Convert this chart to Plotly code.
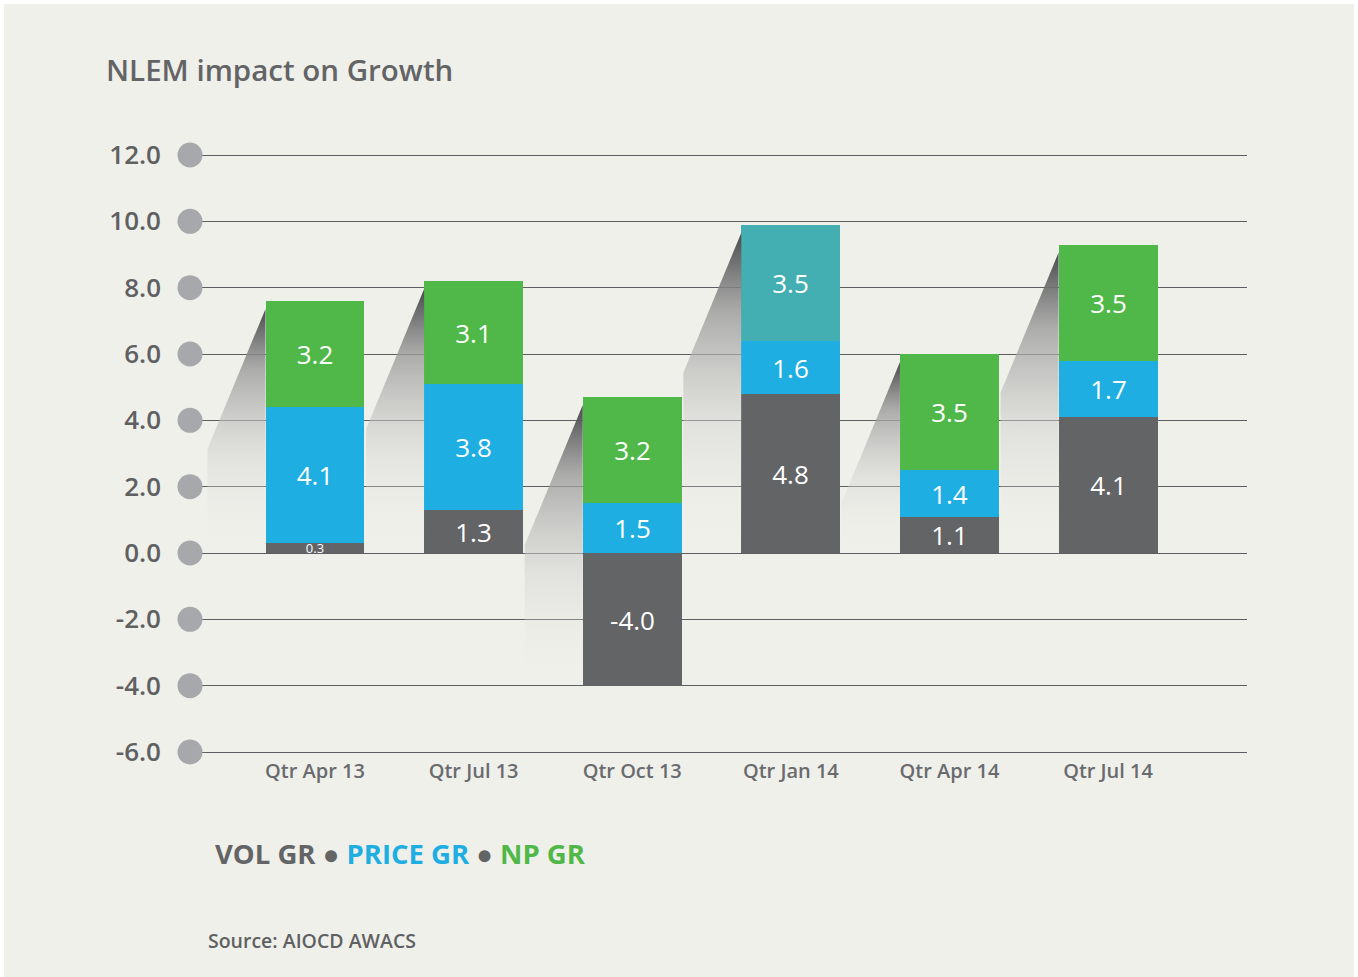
import plotly.graph_objects as go

# ---- data ----
categories = ["Qtr Apr 13", "Qtr Jul 13", "Qtr Oct 13", "Qtr Jan 14", "Qtr Apr 14", "Qtr Jul 14"]
vol_gr = [0.3, 1.3, -4.0, 4.8, 1.1, 4.1]
price_gr = [4.1, 3.8, 1.5, 1.6, 1.4, 1.7]
np_gr = [3.2, 3.1, 3.2, 3.5, 3.5, 3.5]
y_ticks = [-6, -4, -2, 0, 2, 4, 6, 8, 10, 12]

# ---- style ----
W, H = 1358, 977
C_VOL = "#636466"
C_PRICE = "#1eaee2"
C_NP = "#50b848"
C_TEAL = "#44afb2"
BG = "#f0f0eb"
TXT = "#5f6062"
FONT = "Open Sans"

X_LEFT, X_RIGHT = -0.788, 5.876
px_x = (X_RIGHT - X_LEFT) / (1247 - 190)
px_y = 18.0 / (752 - 155)
PAD = 5  # px of extra range above 12 and below -6
Y_MIN, Y_MAX = -6.0 - PAD * px_y, 12.0 + PAD * px_y
BAR_W = 0.624

xs = list(range(len(categories)))
np_colors = [C_TEAL if c == "Qtr Jan 14" else C_NP for c in categories]

fig = go.Figure()

# bar shadows (derived from bar geometry)
for i, x in enumerate(xs):
    pos_top = max(vol_gr[i], 0) + price_gr[i] + np_gr[i]
    bottom = min(vol_gr[i], 0)
    xl = x - BAR_W / 2
    apex = pos_top - 8 * px_y
    low = apex - 140 * px_y
    dx = 58 * px_x
    fig.add_trace(go.Scatter(
        x=[xl, xl - dx, xl - dx, xl, xl],
        y=[apex, low, bottom, bottom, apex],
        mode="lines", line=dict(width=0), fill="toself",
        fillgradient=dict(type="vertical",
                          colorscale=[[0, "rgba(240,240,235,0)"],
                                      [0.4, "rgba(210,210,207,0.5)"],
                                      [0.75, "rgba(155,155,155,0.8)"],
                                      [1, "rgba(72,73,75,1)"]]),
        hoverinfo="skip", showlegend=False))

# bars
fig.add_trace(go.Bar(x=xs, y=vol_gr, name="VOL GR", marker=dict(color=C_VOL, line=dict(width=0)),
                     width=BAR_W, text=[f"{v:.1f}" for v in vol_gr],
                     textfont=dict(color="white", size=[13 if abs(v) < 0.5 else 26 for v in vol_gr],
                                   family=FONT)))
fig.add_trace(go.Bar(x=xs, y=price_gr, name="PRICE GR", marker=dict(color=C_PRICE, line=dict(width=0)),
                     width=BAR_W, text=[f"{v:.1f}" for v in price_gr],
                     textfont=dict(color="white", size=26, family=FONT)))
fig.add_trace(go.Bar(x=xs, y=np_gr, name="NP GR", marker=dict(color=np_colors, line=dict(width=0)),
                     width=BAR_W, text=[f"{v:.1f}" for v in np_gr],
                     textfont=dict(color="white", size=26, family=FONT)))
fig.update_traces(selector=dict(type="bar"), textposition="inside", insidetextanchor="middle",
                  constraintext="none", textangle=0, hoverinfo="skip")

# axis circles with soft shadow
steps = 10
for k in range(steps, 0, -1):
    f = k / steps
    fig.add_trace(go.Scatter(
        x=[X_LEFT - 12 * px_x * f] * len(y_ticks),
        y=[t - 19 * px_y * f for t in y_ticks],
        mode="markers", marker=dict(size=25, color="rgba(175,175,175,0.10)", line=dict(width=0)),
        cliponaxis=False, hoverinfo="skip", showlegend=False))
fig.add_trace(go.Scatter(
    x=[X_LEFT] * len(y_ticks), y=y_ticks, mode="markers",
    marker=dict(size=25, color="#a7a8ac", line=dict(width=0)),
    cliponaxis=False, hoverinfo="skip", showlegend=False))

fig.update_layout(
    template="none",
    width=W, height=H, margin=dict(l=0, r=0, t=0, b=0, pad=0, autoexpand=False),
    paper_bgcolor="white", plot_bgcolor="rgba(0,0,0,0)",
    barmode="relative", bargap=0, showlegend=False,
    font=dict(family=FONT, color=TXT),
    xaxis=dict(domain=[190 / W, 1247 / W], range=[X_LEFT, X_RIGHT], automargin=False,
               tickvals=xs, ticktext=categories, showgrid=False, zeroline=False,
               showline=False, ticks="", tickfont=dict(size=20, color="#6a6b6e", family=FONT, weight=600)),
    yaxis=dict(domain=[1 - (752 + PAD) / H, 1 - (155 - PAD) / H], range=[Y_MIN, Y_MAX], automargin=False,
               tickvals=y_ticks, ticktext=[f"{t:.1f}" for t in y_ticks],
               showgrid=True, gridcolor="#5d5e60", gridwidth=1.2,
               zeroline=True, zerolinecolor="#5d5e60", zerolinewidth=1.2,
               showline=False, ticks="", ticklabelstandoff=28,
               tickfont=dict(size=26, color=TXT, family=FONT, weight=600)),
    shapes=[dict(type="rect", xref="paper", yref="paper", x0=4 / W, x1=1354 / W,
                 y0=0, y1=1 - 4 / H, fillcolor=BG, line=dict(width=0), layer="below")],
    annotations=[
        dict(text="NLEM impact on Growth", xref="paper", yref="paper",
             x=104 / W, y=1 - 70 / H, xanchor="left", yanchor="middle", showarrow=False,
             font=dict(size=29.5, color="#636466", family=FONT, weight=600)),
        dict(text=f"<b><span style='color:{C_VOL}'>VOL GR</span> <span style='color:{C_VOL}'>●</span> "
                  f"<span style='color:{C_PRICE}'>PRICE GR</span> <span style='color:{C_VOL}'>●</span> "
                  f"<span style='color:{C_NP}'>NP GR</span></b>",
             xref="paper", yref="paper", x=213 / W, y=1 - 853 / H, xanchor="left", yanchor="middle",
             showarrow=False, font=dict(size=27.5, family=FONT)),
        dict(text="Source: AIOCD AWACS", xref="paper", yref="paper",
             x=206 / W, y=1 - 940 / H, xanchor="left", yanchor="middle", showarrow=False,
             font=dict(size=19.5, color="#5f6062", family=FONT, weight=600)),
    ],
)

fig.write_html("out.html", config={"displayModeBar": False},
               post_script="document.body.style.margin='0';document.body.style.overflow='hidden';")
